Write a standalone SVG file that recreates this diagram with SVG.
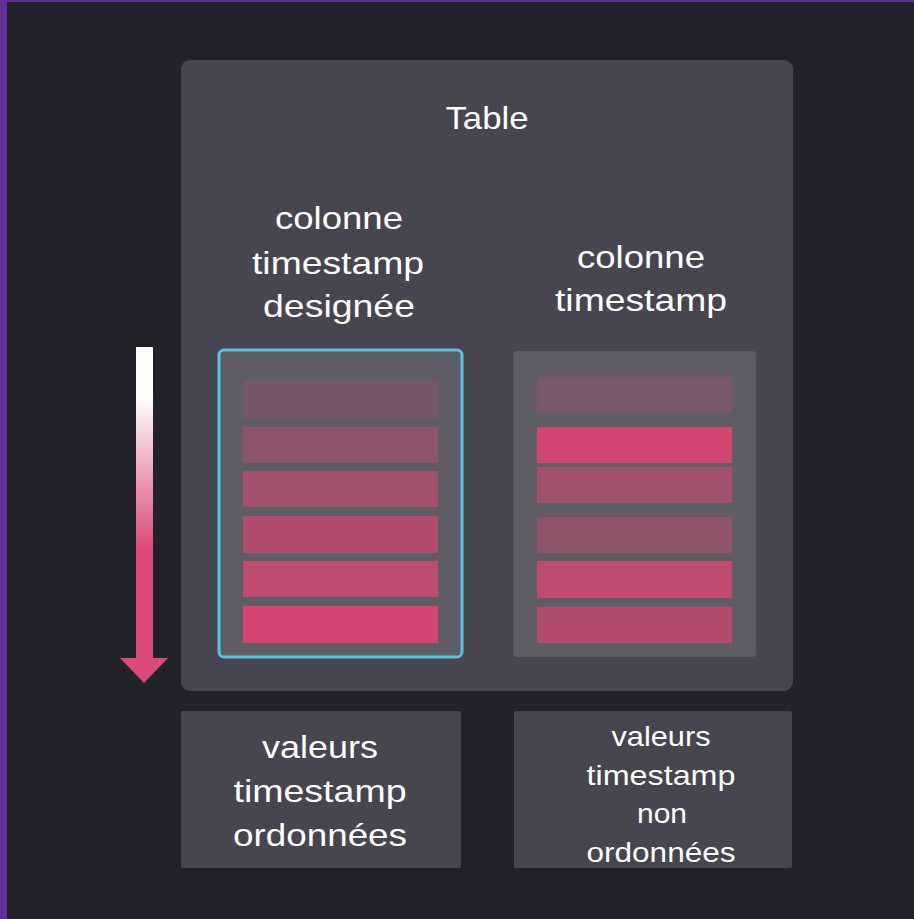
<svg xmlns="http://www.w3.org/2000/svg" width="914" height="919" viewBox="0 0 914 919">
  <defs>
    <linearGradient id="arrowGrad" gradientUnits="userSpaceOnUse" x1="0" y1="347" x2="0" y2="682">
      <stop offset="0" stop-color="#ffffff"/>
      <stop offset="0.15" stop-color="#ffffff"/>
      <stop offset="0.6" stop-color="#db4a78"/>
      <stop offset="1" stop-color="#db4a78"/>
    </linearGradient>
    <style>
      .panel { fill: #47454f; }
      .col { fill: #5e5c65; }
      .lbl { font-family: "Liberation Sans", Arial, sans-serif; fill: #ffffff; text-anchor: middle; }
      .big { font-size: 32px; }
      .small { font-size: 28px; }
    </style>
  </defs>

  <rect x="0" y="0" width="914" height="919" fill="#22222b"/>
  <rect x="0" y="0" width="914" height="2" fill="#66309a"/>
  <rect x="0" y="0" width="7" height="919" fill="#66309a"/>

  <g id="table">
    <rect class="panel" x="181" y="60" width="612" height="631" rx="9"/>
    <text class="lbl big" x="487" y="129" textLength="83" lengthAdjust="spacingAndGlyphs">Table</text>
  </g>

  <g id="label-designated">
    <text class="lbl big" x="339" y="229" textLength="128" lengthAdjust="spacingAndGlyphs">colonne</text>
    <text class="lbl big" x="338" y="274" textLength="172" lengthAdjust="spacingAndGlyphs">timestamp</text>
    <text class="lbl big" x="339" y="317" textLength="152" lengthAdjust="spacingAndGlyphs">designée</text>
  </g>

  <g id="label-timestamp">
    <text class="lbl big" x="641" y="268" textLength="128" lengthAdjust="spacingAndGlyphs">colonne</text>
    <text class="lbl big" x="641" y="311" textLength="172" lengthAdjust="spacingAndGlyphs">timestamp</text>
  </g>

  <g id="designated-column">
    <rect class="col" x="219" y="350" width="243" height="307" rx="5" stroke="#56c4e3" stroke-width="3"/>
    <rect x="243" y="380" width="195" height="38" fill="#76566a"/>
    <rect x="243" y="427" width="195" height="36" fill="#8e546c"/>
    <rect x="243" y="471" width="195" height="36" fill="#a1506d"/>
    <rect x="243" y="516" width="195" height="37" fill="#b14c6e"/>
    <rect x="243" y="561" width="195" height="36" fill="#c14a6f"/>
    <rect x="243" y="606" width="195" height="37" fill="#d4466f"/>
  </g>

  <g id="timestamp-column">
    <rect class="col" x="513" y="351" width="243" height="306" rx="4"/>
    <rect x="537" y="377" width="195" height="35" fill="#775769"/>
    <rect x="537" y="427" width="195" height="36" fill="#d4466f"/>
    <rect x="537" y="467" width="195" height="36" fill="#a1506d"/>
    <rect x="537" y="517" width="195" height="36" fill="#8f546c"/>
    <rect x="537" y="561" width="195" height="37" fill="#c14a6f"/>
    <rect x="537" y="607" width="195" height="36" fill="#b04d6e"/>
  </g>

  <g id="order-arrow">
    <rect x="136" y="347" width="17" height="312" fill="url(#arrowGrad)"/>
    <polygon points="120,658 168,658 144,683" fill="#db4a78"/>
  </g>

  <g id="ordered-values">
    <rect class="panel" x="181" y="711" width="280" height="157" rx="2"/>
    <text class="lbl big" x="320" y="758" textLength="116" lengthAdjust="spacingAndGlyphs">valeurs</text>
    <text class="lbl big" x="320" y="802" textLength="173" lengthAdjust="spacingAndGlyphs">timestamp</text>
    <text class="lbl big" x="320" y="846" textLength="174" lengthAdjust="spacingAndGlyphs">ordonnées</text>
  </g>

  <g id="unordered-values">
    <rect class="panel" x="514" y="711" width="278" height="157" rx="2"/>
    <text class="lbl small" x="661" y="746" textLength="99" lengthAdjust="spacingAndGlyphs">valeurs</text>
    <text class="lbl small" x="661" y="785" textLength="149" lengthAdjust="spacingAndGlyphs">timestamp</text>
    <text class="lbl small" x="662" y="823" textLength="50" lengthAdjust="spacingAndGlyphs">non</text>
    <text class="lbl small" x="661" y="862" textLength="149" lengthAdjust="spacingAndGlyphs">ordonnées</text>
  </g>

  <g id="connectors"></g>
</svg>
